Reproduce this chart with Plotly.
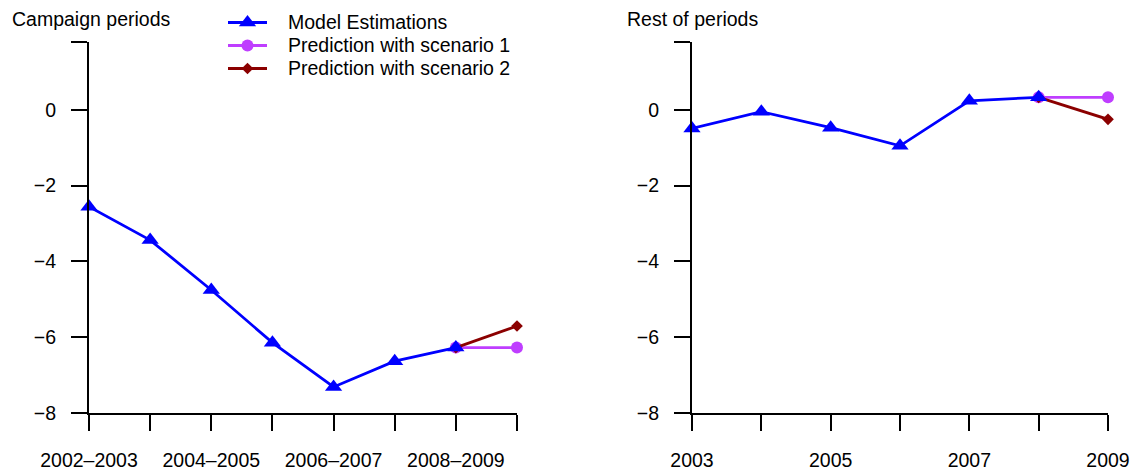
import plotly.graph_objects as go

# ---------------- data ----------------
periods = ["2002-2003", "2003-2004", "2004-2005", "2005-2006",
           "2006-2007", "2007-2008", "2008-2009", "2009-2010"]
period_labels = ["2002–2003", "", "2004–2005", "", "2006–2007", "", "2008–2009", ""]
campaign_est = [-2.56, -3.44, -4.76, -6.15, -7.32, -6.64, -6.28]
campaign_pred1 = [-6.28, -6.28]
campaign_pred2 = [-6.28, -5.71]

years = [2003, 2004, 2005, 2006, 2007, 2008, 2009]
year_labels = ["2003", "", "2005", "", "2007", "", "2009"]
rest_est = [-0.49, -0.05, -0.47, -0.95, 0.24, 0.33]
rest_pred1 = [0.33, 0.33]
rest_pred2 = [0.33, -0.25]

y_ticks = [-8, -6, -4, -2, 0, 1.8]
y_ticktext = ["−8", "−6", "−4", "−2", "0", ""]

series_names = ["Model Estimations", "Prediction with scenario 1", "Prediction with scenario 2"]

# ---------------- style ----------------
W, H = 1130, 473
FONT = "Liberation Sans, Arial, Helvetica, sans-serif"
FS = 19.5
BLUE = "#0000FF"
PINK = "#BF3EFF"
DARKRED = "#8B0000"
styles = [
    dict(color=BLUE, symbol="triangle-up", size=15),
    dict(color=PINK, symbol="circle", size=12),
    dict(color=DARKRED, symbol="diamond", size=9),
]
LW = 2.8

def px_x(v):
    return v / W

def px_y(v):
    return 1 - v / H

fig = go.Figure()

def add_panel(xvals, est, p1, p2, xa, ya):
    xp = xvals[len(est) - 1:len(est) + 1]
    for vals, st, xs, nm in [(p1, styles[1], xp, series_names[1]),
                             (p2, styles[2], xp, series_names[2]),
                             (est, styles[0], xvals[:len(est)], series_names[0])]:
        fig.add_trace(go.Scatter(
            x=xs, y=vals, mode="lines+markers", name=nm,
            line=dict(color=st["color"], width=LW),
            marker=dict(symbol=st["symbol"], size=st["size"], color=st["color"]),
            xaxis=xa, yaxis=ya, showlegend=False, cliponaxis=False))

add_panel(periods, campaign_est, campaign_pred1, campaign_pred2, "x", "y")
add_panel(years, rest_est, rest_pred1, rest_pred2, "x2", "y2")

# ---- legend (key glyphs on a pixel overlay axis) ----
leg_rows = [22.5, 45.5, 68.5]
leg_line = [228, 267]
leg_text_x = 286
for i, st in enumerate(styles):
    yy = leg_rows[i]
    fig.add_trace(go.Scatter(
        x=leg_line, y=[yy, yy], mode="lines",
        line=dict(color=st["color"], width=LW), xaxis="x3", yaxis="y3",
        showlegend=False, hoverinfo="skip"))
    fig.add_trace(go.Scatter(
        x=[(leg_line[0] + leg_line[1]) / 2], y=[yy], mode="markers",
        marker=dict(symbol=st["symbol"], size=st["size"], color=st["color"]),
        xaxis="x3", yaxis="y3", showlegend=False, hoverinfo="skip"))

annotations = [
    dict(text="Campaign periods", x=px_x(10), y=px_y(19)),
    dict(text="Rest of periods", x=px_x(625), y=px_y(19)),
]
for i, nm in enumerate(series_names):
    annotations.append(dict(text=nm, x=px_x(leg_text_x), y=px_y(leg_rows[i])))
for a in annotations:
    a.update(xref="paper", yref="paper", xanchor="left", yanchor="middle",
             showarrow=False, font=dict(family=FONT, size=FS, color="black"))

ydom = [px_y(412.7), px_y(41.7)]
common_axis = dict(showgrid=False, zeroline=False, showline=True, linecolor="black",
                   linewidth=2, ticks="outside", ticklen=16, tickwidth=2, tickcolor="black",
                   automargin=False,
                   tickfont=dict(family=FONT, size=FS, color="black"))

fig.update_layout(
    width=W, height=H,
    margin=dict(l=0, r=0, t=0, b=0, pad=0),
    paper_bgcolor="white", plot_bgcolor="rgba(0,0,0,0)",
    font=dict(family=FONT, size=FS, color="black"),
    xaxis=dict(domain=[px_x(89), px_x(517)], anchor="y", type="category",
               categoryorder="array", categoryarray=periods,
               range=[0, 7], tickmode="array", tickvals=periods, ticktext=period_labels,
               ticklabelstandoff=13, **common_axis),
    yaxis=dict(domain=ydom, anchor="x", range=[-8, 1.8], tickmode="array",
               tickvals=y_ticks, ticktext=y_ticktext, ticklabelstandoff=11, **common_axis),
    xaxis2=dict(domain=[px_x(692), px_x(1108)], anchor="y2", range=[2003, 2009],
                tickmode="array", tickvals=years, ticktext=year_labels,
                ticklabelstandoff=13, **common_axis),
    yaxis2=dict(domain=ydom, anchor="x2", range=[-8, 1.8], tickmode="array",
                tickvals=y_ticks, ticktext=y_ticktext, ticklabelstandoff=11, **common_axis),
    xaxis3=dict(domain=[0, 1], anchor="y3", range=[0, W], visible=False, fixedrange=True),
    yaxis3=dict(domain=[0, 1], anchor="x3", range=[H, 0], visible=False, fixedrange=True),
    annotations=annotations,
    showlegend=False,
)

fig.write_html(
    "out.html",
    config={"displayModeBar": False},
    post_script="document.body.style.margin='0';document.body.style.overflow='hidden';",
)
